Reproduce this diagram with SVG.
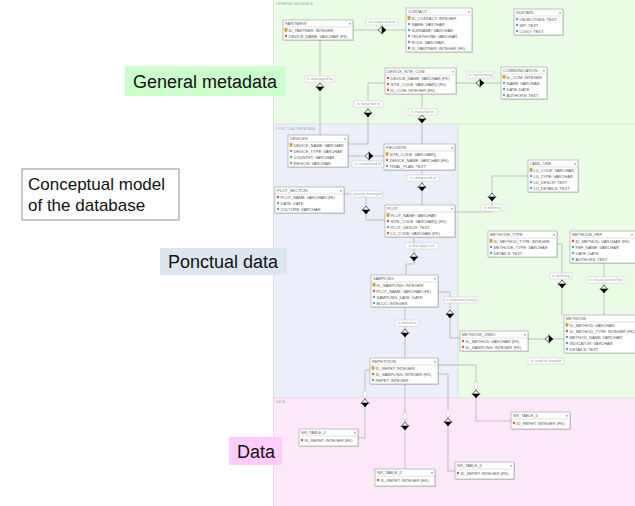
<svg xmlns="http://www.w3.org/2000/svg" xmlns:xlink="http://www.w3.org/1999/xlink" width="635" height="506" viewBox="0 0 635 506">
<style>
text{font-family:"Liberation Sans",Arial,sans-serif}
.b{fill:#fff;stroke:#9c9c9c;stroke-width:.6}
.s{fill:#000;opacity:.12}
.hl{stroke:#c4c4c4;stroke-width:.5}
.h{font-size:4px;fill:#5a5a5a}
.r{font-size:4px;fill:#555}
.c{fill:none;stroke:#a9a9a9;stroke-width:.7}
.lr{fill:#fff;stroke:#c6c6c6;stroke-width:.5}
.lt{font-size:4px;fill:#9a9a9a;text-anchor:middle}
.reg{font-size:3.6px;fill:#a9b0b8}
.big{font-size:18px;fill:#111}
</style>
<defs>
<g id="pk"><rect x="-1.1" y="-1.5" width="2.2" height="3" fill="#d9a520" stroke="#8a6a10" stroke-width=".3"/></g>
<circle id="fk" r="1.2" fill="#d5573a"/>
<circle id="at" r="1.2" fill="#5c9fc8"/>
<path id="dd" d="M-1.1,-0.6 L1.1,-0.6 L0,0.8Z" fill="#555"/>
<g id="dv"><path d="M0,-4 L3.4,0 L0,4 L-3.4,0Z" fill="#fff" stroke="#000" stroke-width=".6"/><path d="M-3.4,0 L3.4,0 L0,4Z" fill="#000"/><line x1="-4.4" y1="0" x2="4.4" y2="0" stroke="#000" stroke-width=".6"/></g>
<g id="dh"><use xlink:href="#dv" href="#dv" transform="rotate(-90)"/></g>
</defs>

<rect x="0" y="0" width="273" height="506" fill="#fff"/>

<!-- regions -->
<rect x="273" y="0" width="362" height="398" fill="#eafce6"/>
<rect x="273" y="124" width="185" height="274" fill="#eceffa"/>
<rect x="273" y="398" width="362" height="108" fill="#fde8fa"/>
<line x1="273" y1="124" x2="635" y2="124" stroke="#cfe0cc" stroke-width=".7"/>
<line x1="458" y1="124" x2="458" y2="398" stroke="#cfe0cc" stroke-width=".7"/>
<line x1="273" y1="398" x2="635" y2="398" stroke="#e4cfe2" stroke-width=".7"/>
<line x1="273.5" y1="0" x2="273.5" y2="506" stroke="#d8d8d8" stroke-width=".8"/>
<text class="reg" x="276" y="4.5">GENERAL METADATA</text>
<text class="reg" x="276" y="130">PONCTUAL METADATA</text>
<text class="reg" x="276" y="402.5">DATA</text>

<!-- connectors -->
<g id="connectors">
<polyline class="c" points="353,30 406,30"/>
<polyline class="c" points="320,40 320,135"/>
<polyline class="c" points="456,83 501,83"/>
<polyline class="c" points="385,83 368,83 368,144 348,144"/>
<polyline class="c" points="422,94 422,144"/>
<polyline class="c" points="348,156 384,156"/>
<polyline class="c" points="422,170 422,205"/>
<polyline class="c" points="344,194 366,194 366,220 385,220"/>
<polyline class="c" points="414,237 414,264 406,264 406,275"/>
<polyline class="c" points="528,176 492,176 492,212 455,212"/>
<polyline class="c" points="438,292 450,292 450,338 460,338"/>
<polyline class="c" points="405,307 405,358"/>
<polyline class="c" points="557,244 562,244 562,315"/>
<polyline class="c" points="604,263 604,315"/>
<polyline class="c" points="528,339 564,339"/>
<polyline class="c" points="438,365 476,365 476,421 511,421"/>
<polyline class="c" points="370,370 365,370 365,438 358,438"/>
<polyline class="c" points="405,384 405,469"/>
<polyline class="c" points="438,374 448,374 448,471 455,471"/>

<use xlink:href="#dh" href="#dh" x="382" y="30"/>
<use xlink:href="#dv" href="#dv" x="320" y="87"/>
<use xlink:href="#dh" href="#dh" x="480" y="83"/>
<use xlink:href="#dv" href="#dv" x="368" y="113"/>
<use xlink:href="#dv" href="#dv" x="422" y="119"/>
<use xlink:href="#dh" href="#dh" x="369" y="156"/>
<use xlink:href="#dv" href="#dv" x="422" y="187"/>
<use xlink:href="#dv" href="#dv" x="366" y="210"/>
<use xlink:href="#dv" href="#dv" x="414" y="257"/>
<use xlink:href="#dv" href="#dv" x="492" y="197"/>
<use xlink:href="#dv" href="#dv" x="450" y="314"/>
<use xlink:href="#dv" href="#dv" x="405" y="333"/>
<use xlink:href="#dv" href="#dv" x="562" y="284"/>
<use xlink:href="#dv" href="#dv" x="604" y="289"/>
<use xlink:href="#dh" href="#dh" x="549" y="339"/>
<use xlink:href="#dv" href="#dv" x="476" y="394"/>
<use xlink:href="#dv" href="#dv" x="365" y="403"/>
<use xlink:href="#dv" href="#dv" x="405" y="426"/>
<use xlink:href="#dv" href="#dv" x="448" y="422"/>

<rect class="lr" x="474.2" y="382" width="3.6" height="6.5"/>
<rect class="lr" x="363.2" y="391" width="3.6" height="6.5"/>
<rect class="lr" x="403.2" y="413" width="3.6" height="6.5"/>
<rect class="lr" x="446.2" y="410" width="3.6" height="6.5"/>

<rect class="lr" x="366" y="19" width="32" height="6"/><text class="lt" x="382" y="23.4">is composed of</text>
<rect class="lr" x="305" y="76" width="30" height="6"/><text class="lt" x="320" y="80.4">is managed by</text>
<rect class="lr" x="467" y="72" width="27" height="6"/><text class="lt" x="480.5" y="76.4">is concerning</text>
<rect class="lr" x="354" y="101" width="29" height="6"/><text class="lt" x="368.5" y="105.4">is reported in</text>
<rect class="lr" x="408" y="109" width="29" height="6"/><text class="lt" x="422.5" y="113.4">is reported in</text>
<rect class="lr" x="352" y="161" width="32" height="6"/><text class="lt" x="368" y="165.4">is composed of</text>
<rect class="lr" x="407" y="175" width="32" height="6"/><text class="lt" x="423" y="179.4">is composed of</text>
<rect class="lr" x="349" y="191" width="34" height="6"/><text class="lt" x="366" y="195.4">is yearly managed</text>
<rect class="lr" x="405" y="243" width="33" height="6"/><text class="lt" x="421.5" y="247.4">is the object of</text>
<rect class="lr" x="481" y="205" width="23" height="6"/><text class="lt" x="492.5" y="209.4">is defining</text>
<rect class="lr" x="444" y="297" width="33" height="6"/><text class="lt" x="460.5" y="301.4">is sampled using</text>
<rect class="lr" x="395" y="320" width="24" height="6"/><text class="lt" x="407" y="324.4">is linked to</text>
<rect class="lr" x="550" y="273" width="22" height="6"/><text class="lt" x="561" y="277.4">is defining</text>
<rect class="lr" x="587" y="277" width="37" height="6"/><text class="lt" x="605.5" y="281.4">is characterized by</text>
<rect class="lr" x="528" y="358" width="36" height="6"/><text class="lt" x="546" y="362.4">is used to sample</text>
</g>

<!-- entities -->
<g id="partners">
<rect class="s" x="284" y="21" width="70" height="20"/><rect class="b" x="283" y="20" width="70" height="20"/>
<text class="h" x="285" y="25.3">PARTNERS</text><use xlink:href="#dd" href="#dd" x="350" y="24"/><line class="hl" x1="283" y1="27" x2="353" y2="27"/>
<use xlink:href="#pk" href="#pk" x="286" y="30"/><text class="r" x="288.5" y="31.5">ID_PARTNER: INTEGER</text>
<use xlink:href="#fk" href="#fk" x="286" y="36"/><text class="r" x="288.5" y="37.5">DEVICE_NAME: VARCHAR (FK)</text>
</g>
<g id="contact">
<rect class="s" x="407" y="9" width="66" height="44"/><rect class="b" x="406" y="8" width="66" height="44"/>
<text class="h" x="408" y="13.3">CONTACT</text><use xlink:href="#dd" href="#dd" x="469" y="12"/><line class="hl" x1="406" y1="15" x2="472" y2="15"/>
<use xlink:href="#pk" href="#pk" x="409" y="18"/><text class="r" x="411.5" y="19.5">ID_CONTACT: INTEGER</text>
<use xlink:href="#at" href="#at" x="409" y="24"/><text class="r" x="411.5" y="25.5">NAME: VARCHAR</text>
<use xlink:href="#at" href="#at" x="409" y="30"/><text class="r" x="411.5" y="31.5">SURNAME: VARCHAR</text>
<use xlink:href="#at" href="#at" x="409" y="36"/><text class="r" x="411.5" y="37.5">TELEPHONE: VARCHAR</text>
<use xlink:href="#at" href="#at" x="409" y="42"/><text class="r" x="411.5" y="43.5">ROLE: VARCHAR</text>
<use xlink:href="#fk" href="#fk" x="409" y="48"/><text class="r" x="411.5" y="49.5">ID_PARTNER: INTEGER (FK)</text>
</g>
<g id="sustain">
<rect class="s" x="515" y="10" width="49" height="26"/><rect class="b" x="514" y="9" width="49" height="26"/>
<text class="h" x="516" y="14.3">SUSTAIN</text><use xlink:href="#dd" href="#dd" x="560" y="13"/><line class="hl" x1="514" y1="16" x2="563" y2="16"/>
<use xlink:href="#at" href="#at" x="517" y="19"/><text class="r" x="519.5" y="20.5">OBJECTIVES: TEXT</text>
<use xlink:href="#at" href="#at" x="517" y="25"/><text class="r" x="519.5" y="26.5">WP: TEXT</text>
<use xlink:href="#at" href="#at" x="517" y="31"/><text class="r" x="519.5" y="32.5">LOGO: TEXT</text>
</g>
<g id="device_site_com">
<rect class="s" x="386" y="69" width="71" height="26"/><rect class="b" x="385" y="68" width="71" height="26"/>
<text class="h" x="387" y="73.3">DEVICE_SITE_COM</text><use xlink:href="#dd" href="#dd" x="453" y="72"/><line class="hl" x1="385" y1="75" x2="456" y2="75"/>
<use xlink:href="#fk" href="#fk" x="388" y="78"/><text class="r" x="390.5" y="79.5">DEVICE_NAME: VARCHAR (FK)</text>
<use xlink:href="#fk" href="#fk" x="388" y="84"/><text class="r" x="390.5" y="85.5">SITE_CODE: VARCHAR() (FK)</text>
<use xlink:href="#fk" href="#fk" x="388" y="90"/><text class="r" x="390.5" y="91.5">ID_COM: INTEGER (FK)</text>
</g>
<g id="communication">
<rect class="s" x="502" y="68" width="46" height="32"/><rect class="b" x="501" y="67" width="46" height="32"/>
<text class="h" x="503" y="72.3">COMMUNICATION</text><use xlink:href="#dd" href="#dd" x="544" y="71"/><line class="hl" x1="501" y1="74" x2="547" y2="74"/>
<use xlink:href="#pk" href="#pk" x="504" y="77"/><text class="r" x="506.5" y="78.5">ID_COM: INTEGER</text>
<use xlink:href="#at" href="#at" x="504" y="83"/><text class="r" x="506.5" y="84.5">NAME: VARCHAR</text>
<use xlink:href="#at" href="#at" x="504" y="89"/><text class="r" x="506.5" y="90.5">DATE: DATE</text>
<use xlink:href="#at" href="#at" x="504" y="95"/><text class="r" x="506.5" y="96.5">AUTHORS: TEXT</text>
</g>
<g id="devices">
<rect class="s" x="289" y="136" width="60" height="32"/><rect class="b" x="288" y="135" width="60" height="32"/>
<text class="h" x="290" y="140.3">DEVICES</text><use xlink:href="#dd" href="#dd" x="345" y="139"/><line class="hl" x1="288" y1="142" x2="348" y2="142"/>
<use xlink:href="#pk" href="#pk" x="291" y="145"/><text class="r" x="293.5" y="146.5">DEVICE_NAME: VARCHAR</text>
<use xlink:href="#at" href="#at" x="291" y="151"/><text class="r" x="293.5" y="152.5">DEVICE_TYPE: VARCHAR</text>
<use xlink:href="#at" href="#at" x="291" y="157"/><text class="r" x="293.5" y="158.5">COUNTRY: VARCHAR</text>
<use xlink:href="#at" href="#at" x="291" y="163"/><text class="r" x="293.5" y="164.5">REGION: VARCHAR</text>
</g>
<g id="fieldsite">
<rect class="s" x="385" y="145" width="71" height="26"/><rect class="b" x="384" y="144" width="71" height="26"/>
<text class="h" x="386" y="149.3">FIELDSITE</text><use xlink:href="#dd" href="#dd" x="452" y="148"/><line class="hl" x1="384" y1="151" x2="455" y2="151"/>
<use xlink:href="#pk" href="#pk" x="387" y="154"/><text class="r" x="389.5" y="155.5">SITE_CODE: VARCHAR()</text>
<use xlink:href="#fk" href="#fk" x="387" y="160"/><text class="r" x="389.5" y="161.5">DEVICE_NAME: VARCHAR (FK)</text>
<use xlink:href="#at" href="#at" x="387" y="166"/><text class="r" x="389.5" y="167.5">TRIAL_PLAN: TEXT</text>
</g>
<g id="plot_section">
<rect class="s" x="276" y="188" width="69" height="26"/><rect class="b" x="275" y="187" width="69" height="26"/>
<text class="h" x="277" y="192.3">PLOT_SECTION</text><use xlink:href="#dd" href="#dd" x="341" y="191"/><line class="hl" x1="275" y1="194" x2="344" y2="194"/>
<use xlink:href="#fk" href="#fk" x="278" y="197"/><text class="r" x="280.5" y="198.5">PLOT_NAME: VARCHAR (FK)</text>
<use xlink:href="#at" href="#at" x="278" y="203"/><text class="r" x="280.5" y="204.5">DATE: DATE</text>
<use xlink:href="#at" href="#at" x="278" y="209"/><text class="r" x="280.5" y="210.5">CULTURE: VARCHAR</text>
</g>
<g id="plot">
<rect class="s" x="386" y="206" width="70" height="32"/><rect class="b" x="385" y="205" width="70" height="32"/>
<text class="h" x="387" y="210.3">PLOT</text><use xlink:href="#dd" href="#dd" x="452" y="209"/><line class="hl" x1="385" y1="212" x2="455" y2="212"/>
<use xlink:href="#pk" href="#pk" x="388" y="215"/><text class="r" x="390.5" y="216.5">PLOT_NAME: VARCHAR</text>
<use xlink:href="#fk" href="#fk" x="388" y="221"/><text class="r" x="390.5" y="222.5">SITE_CODE: VARCHAR() (FK)</text>
<use xlink:href="#at" href="#at" x="388" y="227"/><text class="r" x="390.5" y="228.5">PLOT_DESCR: TEXT</text>
<use xlink:href="#fk" href="#fk" x="388" y="233"/><text class="r" x="390.5" y="234.5">LU_CODE: VARCHAR (FK)</text>
</g>
<g id="land_use">
<rect class="s" x="529" y="161" width="50" height="32"/><rect class="b" x="528" y="160" width="50" height="32"/>
<text class="h" x="530" y="165.3">LAND_USE</text><use xlink:href="#dd" href="#dd" x="575" y="164"/><line class="hl" x1="528" y1="167" x2="578" y2="167"/>
<use xlink:href="#pk" href="#pk" x="531" y="170"/><text class="r" x="533.5" y="171.5">LU_CODE: VARCHAR</text>
<use xlink:href="#at" href="#at" x="531" y="176"/><text class="r" x="533.5" y="177.5">LU_TYPE: VARCHAR</text>
<use xlink:href="#at" href="#at" x="531" y="182"/><text class="r" x="533.5" y="183.5">LU_DESCR: TEXT</text>
<use xlink:href="#at" href="#at" x="531" y="188"/><text class="r" x="533.5" y="189.5">LU_DETAILS: TEXT</text>
</g>
<g id="methode_type">
<rect class="s" x="489" y="232" width="69" height="26"/><rect class="b" x="488" y="231" width="69" height="26"/>
<text class="h" x="490" y="236.3">METHODE_TYPE</text><use xlink:href="#dd" href="#dd" x="554" y="235"/><line class="hl" x1="488" y1="238" x2="557" y2="238"/>
<use xlink:href="#pk" href="#pk" x="491" y="241"/><text class="r" x="493.5" y="242.5">ID_METHOD_TYPE: INTEGER</text>
<use xlink:href="#at" href="#at" x="491" y="247"/><text class="r" x="493.5" y="248.5">METHODE_TYPE: VARCHAR</text>
<use xlink:href="#at" href="#at" x="491" y="253"/><text class="r" x="493.5" y="254.5">DETAILS: TEXT</text>
</g>
<g id="methode_ref">
<rect class="s" x="571" y="232" width="70" height="32"/><rect class="b" x="570" y="231" width="70" height="32"/>
<text class="h" x="572" y="236.3">METHODE_REF</text><use xlink:href="#dd" href="#dd" x="632" y="235"/><line class="hl" x1="570" y1="238" x2="640" y2="238"/>
<use xlink:href="#fk" href="#fk" x="573" y="241"/><text class="r" x="575.5" y="242.5">ID_METHOD: VARCHAR (FK)</text>
<use xlink:href="#at" href="#at" x="573" y="247"/><text class="r" x="575.5" y="248.5">REF_NAME: VARCHAR</text>
<use xlink:href="#at" href="#at" x="573" y="253"/><text class="r" x="575.5" y="254.5">DATE: DATE</text>
<use xlink:href="#at" href="#at" x="573" y="259"/><text class="r" x="575.5" y="260.5">AUTHORS: TEXT</text>
</g>
<g id="sampling">
<rect class="s" x="372" y="276" width="67" height="32"/><rect class="b" x="371" y="275" width="67" height="32"/>
<text class="h" x="373" y="280.3">SAMPLING</text><use xlink:href="#dd" href="#dd" x="435" y="279"/><line class="hl" x1="371" y1="282" x2="438" y2="282"/>
<use xlink:href="#pk" href="#pk" x="374" y="285"/><text class="r" x="376.5" y="286.5">ID_SAMPLING: INTEGER</text>
<use xlink:href="#fk" href="#fk" x="374" y="291"/><text class="r" x="376.5" y="292.5">PLOT_NAME: VARCHAR (FK)</text>
<use xlink:href="#at" href="#at" x="374" y="297"/><text class="r" x="376.5" y="298.5">SAMPLING_DATE: DATE</text>
<use xlink:href="#at" href="#at" x="374" y="303"/><text class="r" x="376.5" y="304.5">BLOC: INTEGER</text>
</g>
<g id="methode">
<rect class="s" x="565" y="316" width="74" height="38"/><rect class="b" x="564" y="315" width="74" height="38"/>
<text class="h" x="566" y="320.3">METHODE</text><line class="hl" x1="564" y1="322" x2="638" y2="322"/>
<use xlink:href="#pk" href="#pk" x="567" y="325"/><text class="r" x="569.5" y="326.5">ID_METHOD: VARCHAR</text>
<use xlink:href="#fk" href="#fk" x="567" y="331"/><text class="r" x="569.5" y="332.5">ID_METHOD_TYPE: INTEGER (FK)</text>
<use xlink:href="#at" href="#at" x="567" y="337"/><text class="r" x="569.5" y="338.5">METHOD_NAME: VARCHAR</text>
<use xlink:href="#at" href="#at" x="567" y="343"/><text class="r" x="569.5" y="344.5">INDICATOR: VARCHAR</text>
<use xlink:href="#at" href="#at" x="567" y="349"/><text class="r" x="569.5" y="350.5">DETAILS: TEXT</text>
</g>
<g id="methode_used">
<rect class="s" x="461" y="332" width="68" height="20"/><rect class="b" x="460" y="331" width="68" height="20"/>
<text class="h" x="462" y="336.3">METHODE_USED</text><use xlink:href="#dd" href="#dd" x="525" y="335"/><line class="hl" x1="460" y1="338" x2="528" y2="338"/>
<use xlink:href="#fk" href="#fk" x="463" y="341"/><text class="r" x="465.5" y="342.5">ID_METHOD: VARCHAR (FK)</text>
<use xlink:href="#fk" href="#fk" x="463" y="347"/><text class="r" x="465.5" y="348.5">ID_SAMPLING: INTEGER (FK)</text>
</g>
<g id="repetition">
<rect class="s" x="371" y="359" width="68" height="26"/><rect class="b" x="370" y="358" width="68" height="26"/>
<text class="h" x="372" y="363.3">REPETITION</text><use xlink:href="#dd" href="#dd" x="435" y="362"/><line class="hl" x1="370" y1="365" x2="438" y2="365"/>
<use xlink:href="#pk" href="#pk" x="373" y="368"/><text class="r" x="375.5" y="369.5">ID_REPET: INTEGER</text>
<use xlink:href="#fk" href="#fk" x="373" y="374"/><text class="r" x="375.5" y="375.5">ID_SAMPLING: INTEGER (FK)</text>
<use xlink:href="#at" href="#at" x="373" y="380"/><text class="r" x="375.5" y="381.5">REPET: INTEGER</text>
</g>
<g id="nr_table_1">
<rect class="s" x="300" y="430" width="59" height="17"/><rect class="b" x="299" y="429" width="59" height="17"/>
<text class="h" x="301" y="434.3">NR_TABLE_1</text><use xlink:href="#dd" href="#dd" x="355" y="433"/><line class="hl" x1="299" y1="436" x2="358" y2="436"/>
<use xlink:href="#fk" href="#fk" x="302" y="440"/><text class="r" x="304.5" y="441.5">ID_REPET: INTEGER (FK)</text>
</g>
<g id="nr_table_2">
<rect class="s" x="376" y="470" width="60" height="17"/><rect class="b" x="375" y="469" width="60" height="17"/>
<text class="h" x="377" y="474.3">NR_TABLE_2</text><use xlink:href="#dd" href="#dd" x="432" y="473"/><line class="hl" x1="375" y1="476" x2="435" y2="476"/>
<use xlink:href="#fk" href="#fk" x="378" y="480"/><text class="r" x="380.5" y="481.5">ID_REPET: INTEGER (FK)</text>
</g>
<g id="nr_table_3">
<rect class="s" x="456" y="463" width="59" height="17"/><rect class="b" x="455" y="462" width="59" height="17"/>
<text class="h" x="457" y="467.3">NR_TABLE_3</text><use xlink:href="#dd" href="#dd" x="511" y="466"/><line class="hl" x1="455" y1="469" x2="514" y2="469"/>
<use xlink:href="#fk" href="#fk" x="458" y="473"/><text class="r" x="460.5" y="474.5">ID_REPET: INTEGER (FK)</text>
</g>
<g id="nr_table_4">
<rect class="s" x="512" y="413" width="59" height="17"/><rect class="b" x="511" y="412" width="59" height="17"/>
<text class="h" x="513" y="417.3">NR_TABLE_4</text><use xlink:href="#dd" href="#dd" x="567" y="416"/><line class="hl" x1="511" y1="419" x2="570" y2="419"/>
<use xlink:href="#fk" href="#fk" x="514" y="423"/><text class="r" x="516.5" y="424.5">ID_REPET: INTEGER (FK)</text>
</g>

<!-- overlay labels -->
<g id="label_general">
<rect x="125" y="66" width="161" height="30" fill="#ccffcc"/>
<text class="big" x="133" y="88">General metadata</text>
</g>
<g id="label_conceptual">
<rect x="22" y="169" width="157" height="51" fill="#fff" stroke="#777" stroke-width=".8"/>
<text class="big" style="font-size:17px" x="28" y="190">Conceptual model</text>
<text class="big" style="font-size:17px" x="28" y="211">of the database</text>
</g>
<g id="label_ponctual">
<rect x="160" y="248" width="127" height="27" fill="#dde6f0"/>
<text class="big" x="168" y="268">Ponctual data</text>
</g>
<g id="label_data">
<rect x="229" y="437" width="53" height="28" fill="#ffccff"/>
<text class="big" x="237" y="458">Data</text>
</g>
</svg>
